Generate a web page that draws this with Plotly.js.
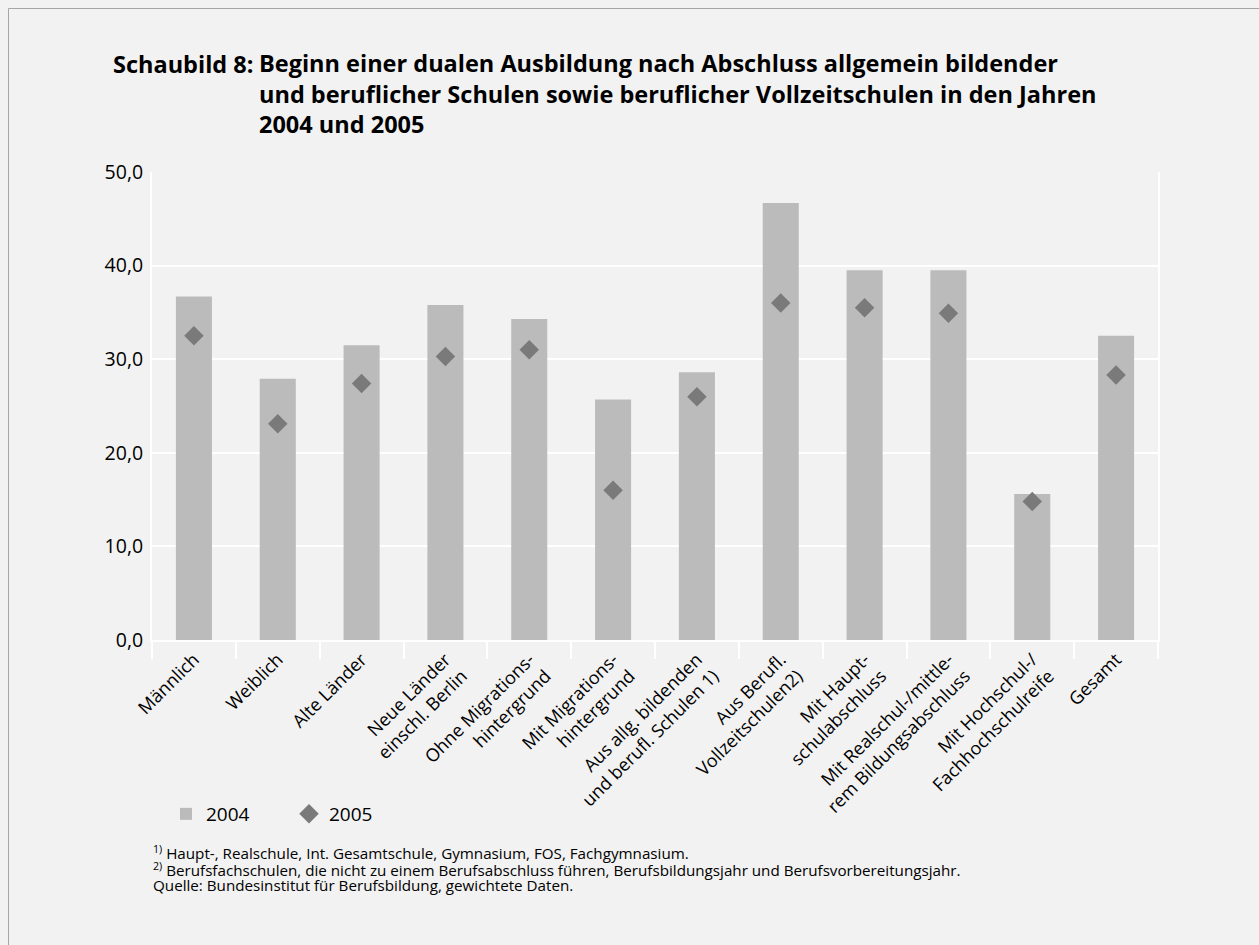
<!DOCTYPE html>
<html>
<head>
<meta charset="utf-8">
<script src="https://cdn.plot.ly/plotly-3.0.1.min.js"></script>
<style>html,body{margin:0;padding:0;background:#f2f2f2;}</style>
</head>
<body>
<div id="chart" style="width:1259px;height:945px;"></div>
<script>
const categories = [
  "Männlich",
  "Weiblich",
  "Alte Länder",
  "Neue Länder<br>einschl. Berlin",
  "Ohne Migrations-<br>hintergrund",
  "Mit Migrations-<br>hintergrund",
  "Aus allg. bildenden<br>und berufl. Schulen 1)",
  "Aus Berufl.<br>Vollzeitschulen2)",
  "Mit Haupt-<br>schulabschluss",
  "Mit Realschul-/mittle-<br>rem Bildungsabschluss",
  "Mit Hochschul-/<br>Fachhochschulreife",
  "Gesamt"
];
const values2004 = [36.7, 27.9, 31.5, 35.8, 34.3, 25.7, 28.6, 46.7, 39.5, 39.5, 15.6, 32.5];
const values2005 = [32.5, 23.1, 27.4, 30.3, 31.0, 16.0, 26.0, 36.0, 35.5, 34.9, 14.8, 28.3];
const yTicks = [0, 10, 20, 30, 40, 50];

const titleLead = "Schaubild 8:";
const titleText = "Beginn einer dualen Ausbildung nach Abschluss allgemein bildender<br>und beruflicher Schulen sowie beruflicher Vollzeitschulen in den Jahren<br>2004 und 2005";
const footnoteLines = [
  "<sup>1)</sup> Haupt-, Realschule, Int. Gesamtschule, Gymnasium, FOS, Fachgymnasium.",
  "<sup>2)</sup> Berufsfachschulen, die nicht zu einem Berufsabschluss führen, Berufsbildungsjahr und Berufsvorbereitungsjahr.",
  "Quelle: Bundesinstitut für Berufsbildung, gewichtete Daten."
];

const FONT = "Open Sans, Noto Sans, sans-serif";

// plot area geometry helpers (px -> paper)
const PL = 152, PR = 1158, PT = 172, PB = 640;
const px2x = p => (p - PL) / (PR - PL);
const py2y = p => (PB - p) / (PB - PT);

const traces = [
  {
    type: "bar",
    name: "2004",
    x: categories,
    y: values2004,
    marker: {color: "#bbbbbb"},
    hoverinfo: "skip"
  },
  {
    type: "scatter",
    mode: "markers",
    name: "2005",
    x: categories,
    y: values2005,
    marker: {symbol: "diamond", size: 15, color: "#7a7a7a"},
    hoverinfo: "skip"
  }
];

const footAnn = footnoteLines.map((t, i) => ({
  text: t, xref: "paper", yref: "paper", x: px2x(151), y: py2y([852, 869, 885][i]),
  xanchor: "left", yanchor: "middle", align: "left", showarrow: false,
  font: {size: 15.2, family: FONT}
}));

const layout = {
  width: 1259,
  height: 945,
  paper_bgcolor: "#f2f2f2",
  plot_bgcolor: "#f2f2f2",
  margin: {l: PL, r: 1259 - PR, t: PT, b: 945 - PB, pad: 0},
  font: {family: FONT, color: "#000", size: 15},
  separators: ",.",
  bargap: 0.57,
  showlegend: true,
  legend: {
    orientation: "h",
    x: px2x(166), xanchor: "left",
    y: py2y(795), yanchor: "top",
    font: {size: 19, family: FONT},
    bgcolor: "rgba(0,0,0,0)",
    entrywidth: 78, entrywidthmode: "pixels",
    itemwidth: 30
  },
  xaxis: {
    type: "category",
    tickson: "boundaries",
    ticks: "outside",
    ticklen: 17,
    tickwidth: 2,
    tickcolor: "#ffffff",
    tickangle: -45,
    tickfont: {size: 18, family: FONT},
    showgrid: false,
    showline: true,
    linecolor: "#ffffff",
    linewidth: 2,
    mirror: false,
    range: [-0.5, 11.5]
  },
  yaxis: {
    range: [0, 50],
    tickvals: yTicks,
    tickformat: ".1f",
    tickfont: {size: 19.5, family: FONT},
    showgrid: true,
    gridcolor: "#ffffff",
    gridwidth: 2,
    showline: true,
    linecolor: "#ffffff",
    linewidth: 2,
    mirror: true,
    ticks: "",
    ticklabelstandoff: 3,
    zeroline: false,
    fixedrange: true
  },
  shapes: [
    {type: "line", xref: "paper", yref: "paper",
     x0: px2x(8.5), x1: px2x(8.5), y0: py2y(8.5), y1: py2y(960),
     line: {color: "#a6a6a6", width: 1}, layer: "below"},
    {type: "line", xref: "paper", yref: "paper",
     x0: px2x(8.5), x1: px2x(1270), y0: py2y(8.5), y1: py2y(8.5),
     line: {color: "#a6a6a6", width: 1}, layer: "below"}
  ],
  annotations: [
    {text: titleLead, xref: "paper", yref: "paper", x: px2x(111), y: py2y(64),
     xanchor: "left", yanchor: "middle", align: "left", showarrow: false,
     font: {size: 23.5, family: FONT, weight: 700}},
    {text: titleText, xref: "paper", yref: "paper", x: px2x(257), y: py2y(94),
     xanchor: "left", yanchor: "middle", align: "left", showarrow: false,
     font: {size: 23.5, family: FONT, weight: 700}}
  ].concat(footAnn)
};

Plotly.newPlot("chart", traces, layout, {displayModeBar: false, staticPlot: true});
</script>
</body>
</html>
